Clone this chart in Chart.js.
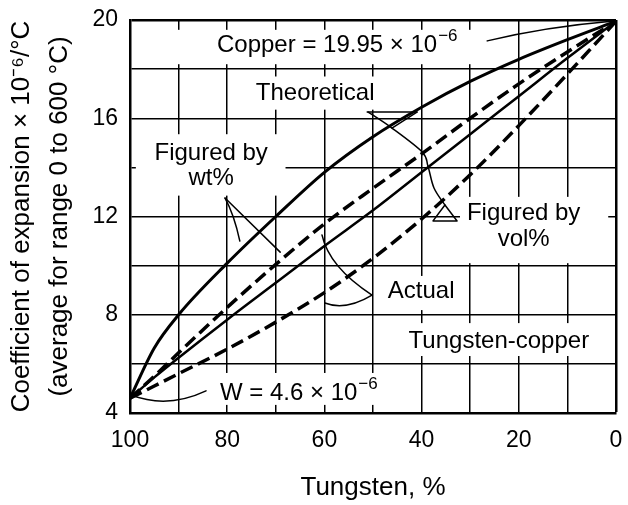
<!DOCTYPE html>
<html><head><meta charset="utf-8">
<script src="https://cdn.jsdelivr.net/npm/chart.js@4.4.0/dist/chart.umd.min.js"></script>
<style>html,body{margin:0;padding:0;background:#fff;} canvas{display:block;}</style>
</head><body>
<canvas id="c" width="628" height="505" style="width:628px;height:505px"></canvas>
<script>
// ---- data ----
const tungstenPct      = [100, 95, 90, 80, 70, 60, 50, 40, 30, 20, 10, 0];
const theoreticalByWt  = [4.6, 6.65, 8.0, 10.1, 12.0, 13.8, 15.25, 16.45, 17.5, 18.4, 19.2, 19.95];
const theoreticalByVol = [4.6, 5.45, 6.25, 7.8, 9.3, 10.8, 12.25, 13.8, 15.35, 16.9, 18.45, 19.95];
const actualByWt       = [4.6, 5.5, 6.45, 8.3, 10.05, 11.7, 13.15, 14.55, 16.0, 17.4, 18.7, 19.95];
const actualByVol      = [4.6, 5.1, 5.6, 6.6, 7.7, 8.9, 10.3, 11.9, 13.7, 15.7, 17.8, 19.95];
const xTickLabels = [100, 80, 60, 40, 20, 0];
const yTickLabels = [4, 8, 12, 16, 20];

// ---- annotation geometry in data units (Tungsten %, coefficient) ----
const maskBoxes = [
  [98, 25, 19.6, 18.2],
  [77.5, 47.5, 17.7, 16.35],
  [98.8, 68, 15.35, 12.85],
  [32.1, 1.6, 12.8, 10.1],
  [48.6, 31.7, 9.58, 8.19],
  [44.9, 2.1, 7.66, 6.32],
  [85.6, 44.4, 5.63, 4.33]
];
const noteTexts = [
  {t:'Copper = 19.95 × 10', sup:'−6', x:82.1, y:18.98, align:'left'},
  {t:'Theoretical', x:61.9, y:17.03, align:'center'},
  {t:'Figured by', x:83.3, y:14.57, align:'center'},
  {t:'wt%', x:83.3, y:13.55, align:'center'},
  {t:'Figured by', x:19.0, y:12.12, align:'center'},
  {t:'vol%', x:19.0, y:11.06, align:'center'},
  {t:'Actual', x:40.1, y:8.95, align:'center'},
  {t:'Tungsten-copper', x:24.1, y:6.91, align:'center'},
  {t:'W = 4.6 × 10', sup:'−6', x:81.5, y:4.79, align:'left'}
];
const leaders = [
  {k:'quad', p:[[26.5,19.15],[14.6,19.72],[0.4,19.96]]},
  {k:'line', p:[[51.2,16.25],[40.95,16.25]]},
  {k:'line', p:[[40.95,16.25],[46.1,15.6]]},
  {k:'smooth', p:[[51.0,16.25],[46.1,15.6],[39.9,14.63],[38.7,14.06],[37.45,13.16],[35.2,12.47]]},
  {k:'poly', p:[[37.65,11.82],[32.7,11.82],[35.2,12.47]]},
  {k:'line', p:[[80.45,12.75],[69.1,10.55]]},
  {k:'quad', p:[[80.45,12.75],[78.6,12.1],[77.4,11.0]]},
  {k:'quad', p:[[50.2,8.8],[55.66,8.15],[59.9,8.48]]},
  {k:'quad', p:[[50.2,8.8],[59.05,9.94],[60.5,11.25]]},
  {k:'quad', p:[[84.36,4.90],[92.28,4.16],[99.8,4.73]]}
];

const FONT = '"Liberation Sans", Arial, Helvetica, sans-serif';
Chart.defaults.font.family = FONT;
Chart.defaults.color = '#000';

function pts(arr){ return tungstenPct.map((x,i)=>({x:x, y:arr[i]})); }

const annot = {
  id:'annot',
  beforeDatasetsDraw(chart){
    const {ctx, scales:{x,y}} = chart;
    ctx.save(); ctx.fillStyle = '#fff';
    maskBoxes.forEach(b=>{
      const x1=x.getPixelForValue(b[0]), x2=x.getPixelForValue(b[1]);
      const y1=y.getPixelForValue(b[2]), y2=y.getPixelForValue(b[3]);
      ctx.fillRect(Math.min(x1,x2), Math.min(y1,y2), Math.abs(x2-x1), Math.abs(y2-y1));
    });
    ctx.restore();
  },
  afterDatasetsDraw(chart){
    const {ctx, scales:{x,y}} = chart;
    const P = p => [x.getPixelForValue(p[0]), y.getPixelForValue(p[1])];
    ctx.save();
    ctx.strokeStyle = '#000'; ctx.lineWidth = 1.5; ctx.lineCap='round'; ctx.lineJoin='round';
    leaders.forEach(l=>{
      const q = l.p.map(P);
      ctx.beginPath();
      ctx.moveTo(q[0][0], q[0][1]);
      if(l.k==='line' || l.k==='poly'){
        for(let i=1;i<q.length;i++) ctx.lineTo(q[i][0], q[i][1]);
        if(l.k==='poly') ctx.closePath();
      } else if(l.k==='quad'){
        ctx.quadraticCurveTo(q[1][0], q[1][1], q[2][0], q[2][1]);
      } else {
        for(let i=0;i<q.length-1;i++){
          const p0=q[Math.max(i-1,0)], p1=q[i], p2=q[i+1], p3=q[Math.min(i+2,q.length-1)];
          ctx.bezierCurveTo(p1[0]+(p2[0]-p0[0])/6, p1[1]+(p2[1]-p0[1])/6,
                            p2[0]-(p3[0]-p1[0])/6, p2[1]-(p3[1]-p1[1])/6, p2[0], p2[1]);
        }
      }
      ctx.stroke();
    });
    ctx.fillStyle = '#000';
    ctx.textBaseline = 'middle'; ctx.textAlign = 'left';
    const base = '24px ' + FONT, small = '17px ' + FONT;
    noteTexts.forEach(n=>{
      const [px, py] = P([n.x, n.y]);
      ctx.font = base; const w1 = ctx.measureText(n.t).width;
      ctx.font = small; const w2 = n.sup ? ctx.measureText(n.sup).width + 1 : 0;
      const left = n.align==='center' ? px-(w1+w2)/2 : px;
      ctx.font = base; ctx.fillText(n.t, left, py);
      if(n.sup){ ctx.font = small; ctx.fillText(n.sup, left+w1+1, py-9); }
    });
    ctx.restore();
  }
};

const solid = (arr, w) => ({data:pts(arr), borderColor:'#000', borderWidth:w, pointRadius:0, fill:false, cubicInterpolationMode:'monotone'});
const dashed = (arr, w) => Object.assign(solid(arr, w), {borderDash:[13,6]});

const noPad = s => { s.paddingLeft = 0; s.paddingRight = 0; s.paddingTop = 0; s.paddingBottom = 0; };

new Chart(document.getElementById('c'), {
  type:'line',
  data:{ datasets:[
    solid(theoreticalByWt, 3),
    solid(theoreticalByVol, 2.5),
    dashed(actualByWt, 3.5),
    dashed(actualByVol, 3.5)
  ]},
  options:{
    responsive:false, animation:false, devicePixelRatio:1,
    layout:{padding:{top:20, right:12, left:0, bottom:0}},
    plugins:{legend:{display:false}, tooltip:{enabled:false}},
    scales:{
      x:{type:'linear', min:0, max:100, reverse:true,
        ticks:{stepSize:10, autoSkip:false, maxRotation:0, padding:14, color:'#000', font:{size:23},
          callback:v => xTickLabels.includes(v) ? String(v) : ''},
        grid:{color:'#000', drawTicks:false, lineWidth:c => (c.tick && c.tick.value===0) ? 2.5 : 1.5},
        border:{color:'#000', width:2.5},
        title:{display:true, text:'Tungsten, %', color:'#000', font:{size:26}, padding:{top:0, bottom:2}},
        afterFit:s => { s.height = 92; noPad(s); }
      },
      y:{min:4, max:20,
        ticks:{stepSize:2, autoSkip:false, padding:12, color:'#000', font:{size:23},
          callback:v => yTickLabels.includes(v) ? String(v) : ''},
        grid:{color:'#000', drawTicks:false, lineWidth:c => (c.tick && c.tick.value===20) ? 2.5 : 1.5},
        border:{color:'#000', width:2.5},
        title:{display:true, color:'#000', font:{size:26, lineHeight:1.46}, padding:{top:3, bottom:0},
          text:['Coefficient of expansion × 10⁻⁶/°C', '(average for range 0 to 600 °C)']},
        afterFit:s => { s.width = 130; noPad(s); }
      }
    }
  },
  plugins:[annot]
});
</script>
</body></html>
